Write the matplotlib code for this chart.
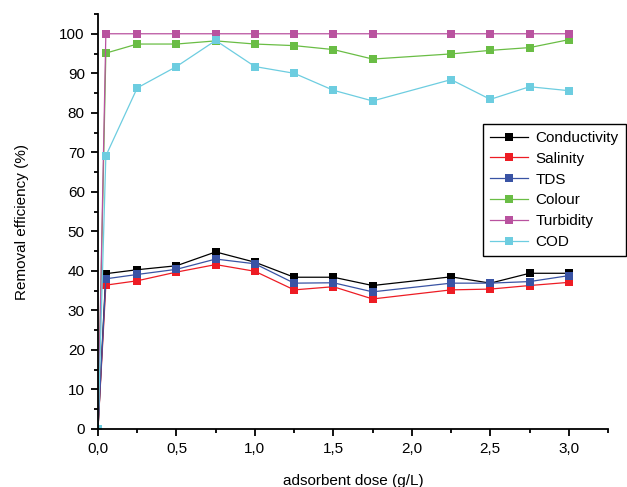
import numpy as np
import matplotlib
matplotlib.use("Agg")
import matplotlib.pyplot as plt
from matplotlib.ticker import MultipleLocator, FuncFormatter

plt.rcParams['font.family'] = ['Liberation Sans', 'DejaVu Sans']

# adsorbent dose (g/L) -- note there is no point at 2.0
dose = [0, 0.05, 0.25, 0.5, 0.75, 1.0, 1.25, 1.5, 1.75, 2.25, 2.5, 2.75, 3.0]

conductivity = [0, 39.3, 40.3, 41.3, 44.8, 42.2, 38.4, 38.4, 36.3, 38.5, 36.9, 39.4, 39.4]
salinity = [0, 36.4, 37.5, 39.7, 41.6, 39.9, 35.2, 36.0, 32.9, 35.2, 35.4, 36.3, 37.1]
tds = [0, 38.0, 39.1, 40.4, 43.0, 41.8, 36.9, 37.0, 34.7, 36.9, 36.9, 37.3, 38.8]
colour = [0, 95.1, 97.4, 97.4, 98.2, 97.4, 97.0, 96.0, 93.6, 94.9, 95.8, 96.5, 98.5]
turbidity = [0, 100, 100, 100, 100, 100, 100, 100, 100, 100, 100, 100, 100]
cod = [0, 69.1, 86.3, 91.7, 98.3, 91.7, 90.0, 85.7, 83.0, 88.4, 83.4, 86.6, 85.6]

series = [
    ("Conductivity", conductivity, "#000000"),
    ("Salinity", salinity, "#ed1c24"),
    ("TDS", tds, "#3953a4"),
    ("Colour", colour, "#6abd45"),
    ("Turbidity", turbidity, "#b9529f"),
    ("COD", cod, "#6dcde0"),
]

fig = plt.figure(figsize=(6.27, 4.87), dpi=100)
ax = fig.add_axes([98 / 627, 1 - 429 / 487, 510 / 627, 415 / 487])

for name, vals, col in series:
    ax.plot(dose, vals, '-', color=col, lw=0.9, marker='s', markersize=6,
            markeredgewidth=0, label=name)

ax.set_xlim(0, 3.25)
ax.set_ylim(0, 105)
ax.xaxis.set_major_locator(MultipleLocator(0.5))
ax.xaxis.set_minor_locator(MultipleLocator(0.25))
ax.yaxis.set_major_locator(MultipleLocator(10))
ax.yaxis.set_minor_locator(MultipleLocator(5))
ax.xaxis.set_major_formatter(FuncFormatter(lambda v, p: f"{v:.1f}".replace('.', ',')))

for s in ['top', 'right']:
    ax.spines[s].set_visible(False)
for s in ['left', 'bottom']:
    ax.spines[s].set_linewidth(1.3)
ax.tick_params(which='major', direction='out', length=5, width=1.3, labelsize=11, pad=4.5)
ax.tick_params(which='minor', direction='out', length=3, width=1.3)

ax.set_xlabel("adsorbent dose (g/L)", fontsize=11, labelpad=13)
ax.set_ylabel("Removal efficiency (%)", fontsize=11)
ax.yaxis.set_label_coords(-0.135, 0.5)

leg = ax.legend(loc='upper left', bbox_to_anchor=(483 / 627, 1 - 124 / 487),
                bbox_transform=fig.transFigure, fontsize=11, fancybox=False,
                edgecolor='black', framealpha=1, handlelength=2.5,
                borderpad=0.45, labelspacing=0.45, handletextpad=0.5,
                borderaxespad=0)
leg.get_frame().set_linewidth(1.0)

fig.savefig("out.png", dpi=100)
